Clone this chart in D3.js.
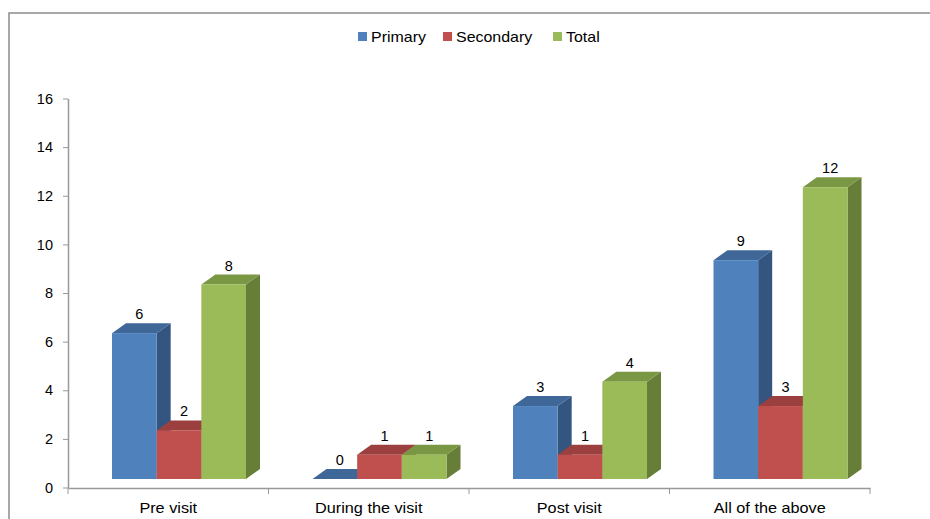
<!DOCTYPE html>
<html>
<head>
<meta charset="utf-8">
<script src="https://cdn.jsdelivr.net/npm/d3@7"></script>
<style>
  body { margin: 0; background: #fff; }
  text { font-family: "Liberation Sans", Arial, sans-serif; fill: #000; }
</style>
</head>
<body>
<svg id="chart" width="930" height="519"></svg>
<script>
var categories = ['Pre visit', 'During the visit', 'Post visit', 'All of the above'];
var seriesNames = ['Primary', 'Secondary', 'Total'];
var primary = [6, 0, 3, 9];
var secondary = [2, 1, 1, 3];
var total = [8, 1, 4, 12];
var yTicks = [0, 2, 4, 6, 8, 10, 12, 14, 16];

var seriesValues = [primary, secondary, total];
var colors = {
    Primary: { front: '#4F81BD', top: '#3F6898', side: '#34557F' },
    Secondary: { front: '#C0504D', top: '#9B403E', side: '#863634' },
    Total: { front: '#9BBB59', top: '#7A9844', side: '#667E37' }
};

// the original text is drawn a bit wider than the font
function stretch(sel, k) {
    sel.each(function () {
        var w = this.getComputedTextLength();
        d3.select(this)
            .attr('textLength', w * k)
            .attr('lengthAdjust', 'spacingAndGlyphs');
    });
}

var svg = d3.select('#chart');

// frame
svg.append('rect')
    .attr('x', 9).attr('y', 13)
    .attr('width', 940).attr('height', 520)
    .attr('fill', 'none')
    .attr('stroke', '#8c8c8c')
    .attr('stroke-width', 1.5);

// scales
var x = d3.scaleBand()
    .domain(categories)
    .range([68, 870]);

var inner = d3.scaleBand()
    .domain(seriesNames)
    .range([44, 178]);

var y = d3.scaleLinear()
    .domain([0, 16])
    .range([487.5, 98.5]);

var depthX = 14, depthY = 10, frontShift = 8.5;

// y axis
var yAxis = d3.axisLeft(y)
    .tickValues(yTicks)
    .tickSize(5)
    .tickSizeOuter(0)
    .tickPadding(10);

var gy = svg.append('g')
    .attr('transform', 'translate(68,0)')
    .call(yAxis);
gy.select('.domain').attr('stroke', '#999').attr('stroke-width', 1.5);
gy.selectAll('.tick line').attr('stroke', '#999');
gy.selectAll('.tick text').style('font-size', '14.5px').attr('fill', '#000');

// x axis
var gx = svg.append('g')
    .attr('transform', 'translate(0,488)')
    .call(d3.axisBottom(x).tickSize(0).tickSizeOuter(0).tickPadding(15));
gx.select('.domain').attr('stroke', '#999').attr('stroke-width', 1.5);
gx.selectAll('.tick text').style('font-size', '14.5px').attr('fill', '#000')
    .call(stretch, 1.12);

var bounds = categories.map(function (c) { return x(c); }).concat([x.range()[1]]);
gx.selectAll('.bound')
    .data(bounds)
    .enter()
    .append('line')
    .attr('x1', function (d) { return d; })
    .attr('x2', function (d) { return d; })
    .attr('y1', 0)
    .attr('y2', 6)
    .attr('stroke', '#999');

// bars, drawn left to right so the next front face covers the previous side
var bars = [];
categories.forEach(function (c, ci) {
    seriesNames.forEach(function (s, si) {
        bars.push({ cat: c, series: s, value: seriesValues[si][ci] });
    });
});

var bw = inner.bandwidth();
var gb = svg.append('g');

bars.forEach(function (d) {
    var x0 = x(d.cat) + inner(d.series);
    var x1 = x0 + bw;
    var yb = y(0) - frontShift;
    var yt = y(d.value) - frontShift;
    var col = colors[d.series];

    // side
    gb.append('path')
        .attr('d', 'M' + x1 + ',' + yt + 'L' + (x1 + depthX) + ',' + (yt - depthY) +
            'L' + (x1 + depthX) + ',' + (yb - depthY) + 'L' + x1 + ',' + yb + 'Z')
        .attr('fill', col.side);
    // top
    gb.append('path')
        .attr('d', 'M' + x0 + ',' + yt + 'L' + (x0 + depthX) + ',' + (yt - depthY) +
            'L' + (x1 + depthX) + ',' + (yt - depthY) + 'L' + x1 + ',' + yt + 'Z')
        .attr('fill', col.top);
    // front
    gb.append('rect')
        .attr('x', x0)
        .attr('y', yt)
        .attr('width', bw)
        .attr('height', yb - yt)
        .attr('fill', col.front);

    // value label
    gb.append('text')
        .attr('x', x0 + bw / 2 + 5)
        .attr('y', yt - depthY - 4)
        .attr('text-anchor', 'middle')
        .style('font-size', '14.5px')
        .text(d.value);
});

// legend
var legendX = [358, 443, 553];
var lg = svg.append('g');
seriesNames.forEach(function (s, i) {
    lg.append('rect')
        .attr('x', legendX[i])
        .attr('y', 32)
        .attr('width', 9)
        .attr('height', 9)
        .attr('fill', colors[s].front);
    lg.append('text')
        .attr('x', legendX[i] + 13)
        .attr('y', 42)
        .style('font-size', '14.5px')
        .text(s)
        .call(stretch, 1.1);
});
</script>
</body>
</html>
